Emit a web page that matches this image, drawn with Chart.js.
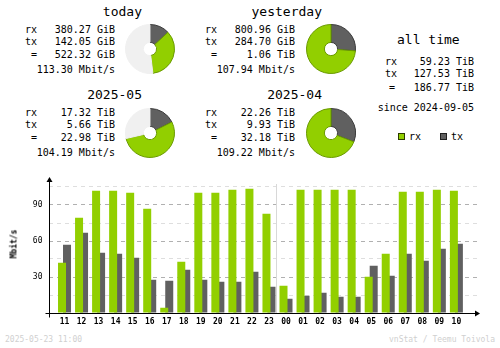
<!DOCTYPE html>
<html>
<head>
<meta charset="utf-8">
<script src="https://cdn.jsdelivr.net/npm/chart.js@4/dist/chart.umd.min.js"></script>
<style>
body { margin: 0; background: #fff; }
#page { position: relative; width: 500px; height: 348px; overflow: hidden; font-family: "DejaVu Sans Mono", monospace; color: #000; }
.t { position: absolute; white-space: pre; font-size: 10px; line-height: 12px; height: 12px; }
.title { position: absolute; white-space: pre; font-size: 13px; line-height: 16px; height: 16px; }
.foot { position: absolute; white-space: pre; font-size: 8px; line-height: 10px; color: #d0d0d0; }
.pie { position: absolute; }
.box { position: absolute; width: 5px; height: 5px; }
#bars { position: absolute; left: 0; top: 170px; }
#unit { position: absolute; font-size: 8px; font-weight: bold; line-height: 10px; white-space: pre; transform: rotate(-90deg); }
</style>
</head>
<body>
<div id="page">
  <canvas id="bars" width="500" height="160"></canvas>
</div>
<script>
'use strict';

//---------------------- Data -------------------
let periods = ['today', 'yesterday', '2025-05', '2025-04'];
let rxValues = [380.27, 800.96, 17.32, 22.26];
let txValues = [142.05, 284.70, 5.66, 9.93];
let totalValues = [522.32, 1.06, 22.98, 32.18];
let rxUnits = ['GiB', 'GiB', 'TiB', 'TiB'];
let txUnits = ['GiB', 'GiB', 'TiB', 'TiB'];
let totalUnits = ['GiB', 'TiB', 'TiB', 'TiB'];
let rates = [113.30, 107.94, 104.19, 109.22];

let allTimeRx = '59.23 TiB';
let allTimeTx = '127.53 TiB';
let allTimeTotal = '186.77 TiB';
let sinceDate = '2024-09-05';

let hours = ['11', '12', '13', '14', '15', '16', '17', '18', '19', '20', '21', '22', '23',
             '00', '01', '02', '03', '04', '05', '06', '07', '08', '09', '10'];
let rxRate = [41.9, 79.4, 101.9, 101.9, 100.3, 86.9, 4.4, 42.8, 100.3, 100.3, 102.8, 103.6,
              82.8, 22.8, 102.8, 102.8, 102.8, 102.8, 30.3, 49.4, 101.1, 101.1, 102.8, 101.9];
let txRate = [56.9, 66.9, 50.3, 49.4, 46.1, 27.8, 26.9, 36.1, 27.8, 26.1, 26.1, 34.4,
              21.9, 11.9, 14.4, 16.9, 13.6, 13.6, 39.4, 31.1, 49.4, 43.6, 53.6, 57.8];
let yTicks = [30, 60, 90];

let rxColor = '#92cf00';
let txColor = '#606060';
let rxEdge = '#6a9a00';
let txEdge = '#3c3c3c';
let restColor = '#f0f0f0';

let page = document.getElementById('page');

//---------------------- Text -------------------
function addText(txt, x, y, cls, align) {
  let el = document.createElement('div');
  el.className = cls;
  el.textContent = txt;
  page.appendChild(el);
  let h = el.offsetHeight;
  el.style.top = (y - h / 2) + 'px';
  if (align === 'right') {
    el.style.right = (500 - x) + 'px';
  } else if (align === 'center') {
    el.style.left = (x - el.offsetWidth / 2) + 'px';
  } else {
    el.style.left = x + 'px';
  }
  return el;
}

function toGiB(v, unit) {
  return unit === 'TiB' ? v * 1024 : v;
}

for (let i = 0; i < periods.length; i++) {
  let col = i % 2;
  let row = Math.floor(i / 2);
  let dx = col * 180;
  let dy = row * 83;
  addText(periods[i], 142 + dx, 11.5 + dy, 'title', 'right');
  addText('rx', 25 + dx, 29.5 + dy, 't');
  addText('tx', 25 + dx, 41.5 + dy, 't');
  addText('=', 31 + dx, 55 + dy, 't');
  addText(rxValues[i].toFixed(2) + ' ' + rxUnits[i], 115 + dx, 29.5 + dy, 't', 'right');
  addText(txValues[i].toFixed(2) + ' ' + txUnits[i], 115 + dx, 41.5 + dy, 't', 'right');
  addText(totalValues[i].toFixed(2) + ' ' + totalUnits[i], 115 + dx, 55 + dy, 't', 'right');
  addText(rates[i].toFixed(2) + ' Mbit/s', 115 + dx, 69.5 + dy, 't', 'right');
}

addText('all time', 428.5, 39.5, 'title', 'center');
addText('rx', 385, 62, 't');
addText('tx', 385, 74, 't');
addText('=', 389, 87.5, 't');
addText(allTimeRx, 474, 62, 't', 'right');
addText(allTimeTx, 474, 74, 't', 'right');
addText(allTimeTotal, 474, 87.5, 't', 'right');
addText('since ' + sinceDate, 474, 108, 't', 'right');

let rxBox = document.createElement('div');
rxBox.className = 'box';
rxBox.style.cssText = 'left:398px;top:133px;background:' + rxColor + ';border:1px solid #2c3a00;';
page.appendChild(rxBox);
let txBox = document.createElement('div');
txBox.className = 'box';
txBox.style.cssText = 'left:440px;top:133px;background:' + txColor + ';border:1px solid #202020;';
page.appendChild(txBox);
addText('rx', 409, 136.5, 't');
addText('tx', 451, 136.5, 't');

addText('2025-05-23 11:00', 5, 340, 'foot');
addText('vnStat / Teemu Toivola', 495, 340, 'foot', 'right');

let unit = addText('Mbit/s', 14, 243.5, '', 'center');
unit.id = 'unit';
unit.style.top = (243.5 - unit.offsetHeight / 2) + 'px';
unit.style.left = (14 - unit.offsetWidth / 2) + 'px';

//---------------------- Pies -------------------
function drawPie(i, scaleMax) {
  let cnv = document.createElement('canvas');
  cnv.className = 'pie';
  cnv.width = 50;
  cnv.height = 50;
  let col = i % 2;
  let row = Math.floor(i / 2);
  cnv.style.left = (150 + col * 180.5 - 25) + 'px';
  cnv.style.top = (49 + row * 83.5 - 25) + 'px';
  page.appendChild(cnv);

  let tx = toGiB(txValues[i], txUnits[i]);
  let rx = toGiB(rxValues[i], rxUnits[i]);
  let rest = scaleMax - tx - rx;
  let values = [tx, rx];
  let colors = [txColor, rxColor];
  let edges = [txEdge, rxEdge];
  if (rest > 0.5) {
    values.push(rest);
    colors.push(restColor);
    edges.push(restColor);
  }
  new Chart(cnv, {
    type: 'doughnut',
    data: {
      datasets: [{
        data: values,
        backgroundColor: colors,
        borderColor: edges,
        borderWidth: 1
      }]
    },
    options: {
      responsive: false,
      animation: false,
      events: [],
      cutout: '27%',
      layout: { padding: 0 },
      plugins: { legend: { display: false }, tooltip: { enabled: false } }
    }
  });
}

for (let p = 0; p < 2; p++) {
  let a = p * 2;
  let b = p * 2 + 1;
  let maxA = toGiB(rxValues[a], rxUnits[a]) + toGiB(txValues[a], txUnits[a]);
  let maxB = toGiB(rxValues[b], rxUnits[b]) + toGiB(txValues[b], txUnits[b]);
  let scaleMax = Math.max(maxA, maxB);
  drawPie(a, scaleMax);
  drawPie(b, scaleMax);
}

//---------------------- Bars -------------------
let rxPoints = [];
let txPoints = [];
for (let i = 0; i < hours.length; i++) {
  rxPoints.push({ x: i, y: rxRate[i] });
  txPoints.push({ x: i, y: txRate[i] });
}

let axisDecor = {
  id: 'axisDecor',
  beforeDatasetsDraw(chart) {
    // day change line between 23 and 00
    let ctx = chart.ctx;
    let a = chart.chartArea;
    let sx = Math.round(chart.scales.x.getPixelForValue(12.5)) - 0.5;
    ctx.save();
    ctx.strokeStyle = '#d8d8d8';
    ctx.lineWidth = 1;
    ctx.beginPath();
    ctx.moveTo(sx, a.top + 3);
    ctx.lineTo(sx, a.bottom);
    ctx.stroke();
    ctx.restore();
  },
  afterDraw(chart) {
    let ctx = chart.ctx;
    let a = chart.chartArea;
    let lx = Math.round(a.left) + 0.5;
    let by = Math.round(a.bottom) + 0.5;
    ctx.save();
    ctx.strokeStyle = '#000';
    ctx.fillStyle = '#000';
    ctx.lineWidth = 1;
    ctx.beginPath();
    ctx.moveTo(lx, a.top - 1);
    ctx.lineTo(lx, by + 4);
    ctx.moveTo(lx - 4, by);
    ctx.lineTo(a.right, by);
    ctx.stroke();
    ctx.beginPath();
    ctx.moveTo(lx, a.top - 4);
    ctx.lineTo(lx - 3, a.top + 1);
    ctx.lineTo(lx + 3, a.top + 1);
    ctx.closePath();
    ctx.fill();
    ctx.beginPath();
    ctx.moveTo(a.right + 3, by);
    ctx.lineTo(a.right - 2, by - 3);
    ctx.lineTo(a.right - 2, by + 3);
    ctx.closePath();
    ctx.fill();
    ctx.restore();
  }
};

let barCtx = document.getElementById('bars').getContext('2d');
let barChart = new Chart(barCtx, {
  type: 'bar',
  data: {
    datasets: [
      { label: 'rx', data: rxPoints, backgroundColor: rxColor, borderWidth: 0 },
      { label: 'tx', data: txPoints, backgroundColor: txColor, borderWidth: 0 }
    ]
  },
  options: {
    responsive: false,
    animation: false,
    events: [],
    categoryPercentage: 0.587,
    barPercentage: 1.6,
    layout: { padding: { left: 0, top: 11, right: 23, bottom: 0 } },
    plugins: { legend: { display: false }, tooltip: { enabled: false } },
    scales: {
      x: {
        type: 'linear',
        min: -0.94,
        max: 24.21,
        offset: false,
        afterFit: function (scale) { scale.height = 17; },
        grid: { display: false, drawTicks: false },
        border: { display: false },
        ticks: {
          stepSize: 1,
          includeBounds: false,
          autoSkip: false,
          maxRotation: 0,
          padding: 4,
          color: '#000',
          font: { family: 'DejaVu Sans Mono', size: 8, weight: 'bold' },
          callback: function (v) {
            return Number.isInteger(v) && v >= 0 && v < hours.length ? hours[v] : '';
          }
        }
      },
      y: {
        min: 0,
        max: 110,
        afterFit: function (scale) { scale.width = 48.5; },
        border: { display: false, dash: [4, 4] },
        grid: {
          drawTicks: false,
          lineWidth: 1,
          color: function (c) {
            let v = c.tick.value;
            if (v === 0) return 'rgba(0,0,0,0)';
            return yTicks.includes(v) ? '#b0b0b0' : '#dedede';
          }
        },
        ticks: {
          stepSize: 15,
          includeBounds: false,
          padding: 6,
          color: '#000',
          font: { family: 'DejaVu Sans Mono', size: 8 },
          callback: function (v) { return yTicks.includes(v) ? String(v) : ''; }
        }
      }
    }
  },
  plugins: [axisDecor]
});
</script>
</body>
</html>
